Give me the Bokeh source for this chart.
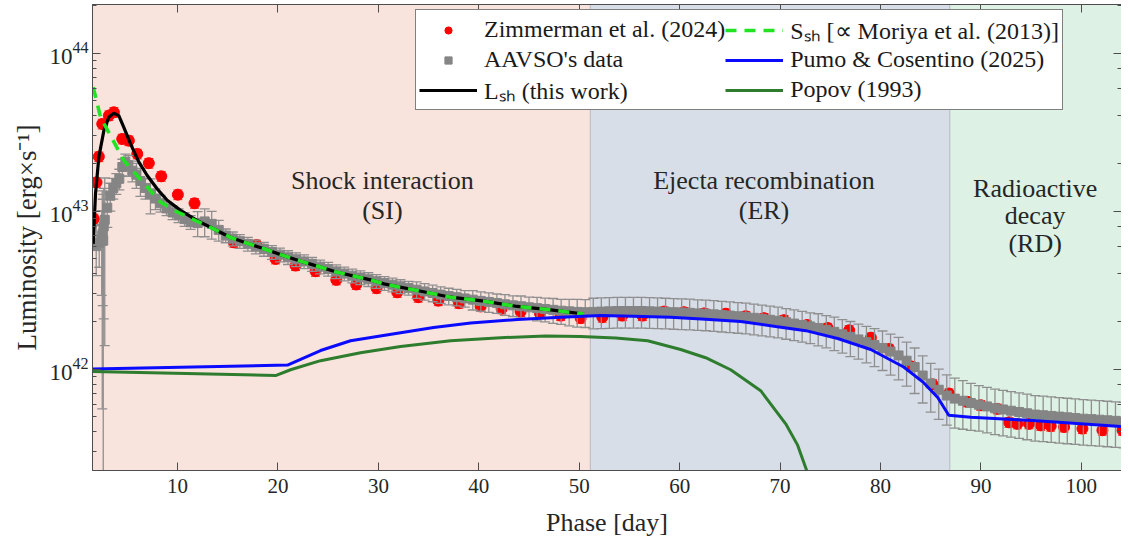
from bokeh.plotting import figure
from bokeh.models import (Range1d, LinearAxis, LogAxis, LogTicker, Legend, LegendItem,
                          BoxAnnotation, Label, SingleIntervalTicker, ColumnDataSource, Span)
from bokeh.embed import file_html
from bokeh.resources import INLINE

UNIT = 1e42  # luminosities below are in units of 1e42 erg/s

# ---------------- data ----------------
zim_day = [1.66, 1.93, 2.16, 2.50, 3.16, 3.66, 4.49, 5.15, 5.99, 7.14, 8.38, 10.03, 11.69,
           15.61, 17.87, 19.76, 21.75, 23.74, 25.81, 27.80, 29.82, 31.88, 33.97, 35.97,
           38.02, 40.18, 42.27, 44.16, 46.09, 48.15, 50.14,
           52.30, 54.29, 56.28, 58.45, 60.44, 62.43, 64.60, 66.58, 68.40, 70.39, 72.69,
           74.74, 76.88, 79.04, 80.86, 83.03, 85.18, 86.82, 88.66, 89.98, 91.64, 92.80,
           93.63, 94.79, 95.96, 96.95, 98.28, 100.11, 102.10, 104.10]
zim_lum = [8.93, 15.2, 22.1, 35.6, 40.2, 42.2, 28.6, 27.9, 23.0, 20.1, 16.6, 12.7, 11.2,
           6.34, 6.1, 4.98, 4.52, 4.16, 3.67, 3.43, 3.25, 3.06, 2.85, 2.71,
           2.61, 2.49, 2.41, 2.31, 2.25, 2.18, 2.10,
           2.13, 2.18, 2.18, 2.31, 2.29, 2.25, 2.24, 2.16, 2.10, 2.04, 1.90,
           1.82, 1.76, 1.58, 1.34, 1.04, 0.80, 0.70, 0.62, 0.59, 0.56, 0.46,
           0.45, 0.45, 0.44, 0.435, 0.43, 0.42, 0.41, 0.41]
zim_err_frac = 0.07

aavso_day = [1.9, 2.2, 2.45, 2.5, 2.55, 2.6, 2.65, 2.75, 3.0, 3.3, 3.6, 3.9, 4.2, 4.5, 4.8,
             5.1, 5.5, 5.9, 6.3, 6.8, 7.3, 7.8, 8.3, 8.9, 9.5, 10.1, 10.7, 11.3, 12.0, 12.7,
             13.4, 14.1, 14.8, 15.5, 16.2, 17.0, 17.8, 18.6, 19.4, 20.2, 21.0, 21.8, 22.6,
             23.4, 24.2, 25.0, 25.8, 26.6, 27.4, 28.2, 29.0, 29.8, 30.6, 31.4, 32.2, 33.0,
             33.8, 34.6, 35.4, 36.2, 37.0, 37.8, 38.6, 39.4, 40.2, 41.0, 41.8, 42.6, 43.4,
             44.2, 45.0, 45.8, 46.6, 47.4, 48.2, 49.0, 49.8, 50.6,
             51.4, 52.2, 53.0, 53.8, 54.6, 55.4, 56.2, 57.0, 57.8, 58.6, 59.4, 60.2, 61.0,
             61.8, 62.6, 63.4, 64.2, 65.0, 65.8, 66.6, 67.4, 68.2, 69.0, 69.8, 70.6, 71.4,
             72.2, 73.0, 73.8, 74.6, 75.4, 76.2, 77.0, 77.8, 78.6, 79.4, 80.2, 81.0, 81.8,
             82.6, 83.4, 84.2, 85.0, 85.8, 86.6, 87.4, 88.2, 89.0, 89.8, 90.6, 91.4, 92.2,
             93.0, 93.8, 94.6, 95.4, 96.2, 97.0, 97.8, 98.6, 99.4, 100.2, 101.0, 101.8,
             102.6, 103.4, 104.2]
aavso_lum = [6.0, 6.3, 6.5, 7.0, 7.2, 6.5, 8.0, 8.8, 10.5, 12.5, 14.0, 15.0, 16.0, 19.0, 20.5,
             19.5, 18.0, 17.0, 15.5, 14.0, 12.8, 12.0, 11.2, 10.4, 9.8, 9.4, 8.9, 8.5, 8.4, 8.6,
             8.3, 7.6, 7.0, 6.7, 6.45, 6.2, 5.95, 5.75, 5.5, 5.3, 5.1, 4.95, 4.8,
             4.62, 4.45, 4.3, 4.15, 4.02, 3.9, 3.8, 3.7, 3.6, 3.5, 3.42, 3.34, 3.26,
             3.18, 3.1, 3.03, 2.96, 2.9, 2.85, 2.8, 2.75, 2.7, 2.66, 2.62, 2.57, 2.53,
             2.5, 2.46, 2.43, 2.4, 2.37, 2.34, 2.32, 2.3, 2.29,
             2.30, 2.31, 2.32, 2.33, 2.33, 2.33, 2.33, 2.32, 2.31, 2.30, 2.29, 2.28, 2.27,
             2.25, 2.24, 2.22, 2.20, 2.18, 2.16, 2.14, 2.11, 2.08, 2.05, 2.02, 1.98, 1.94,
             1.90, 1.86, 1.82, 1.77, 1.72, 1.66, 1.60, 1.54, 1.48, 1.42, 1.36, 1.29, 1.22,
             1.13, 1.03, 0.91, 0.81, 0.74, 0.68, 0.65, 0.63, 0.61, 0.595, 0.58, 0.565, 0.555,
             0.545, 0.535, 0.525, 0.515, 0.51, 0.505, 0.50, 0.495, 0.49, 0.485, 0.482, 0.478,
             0.474, 0.47, 0.466]
aavso_err_frac = [0.35, 0.3, 0.55, 0.92, 0.65, 0.965, 0.74, 0.84, 0.25, 0.2, 0.15, 0.15, 0.15,
                  0.12, 0.12, 0.15, 0.15, 0.18, 0.2, 0.15, 0.25, 0.15, 0.12, 0.1, 0.1, 0.1,
                  0.1, 0.1, 0.18, 0.2, 0.2, 0.15, 0.1, 0.1, 0.1, 0.1, 0.1, 0.1, 0.1, 0.1,
                  0.1, 0.1, 0.1, 0.1, 0.1, 0.1, 0.1, 0.1, 0.1, 0.1, 0.1, 0.1, 0.1, 0.1,
                  0.1, 0.1, 0.12, 0.12, 0.12, 0.12, 0.12, 0.12, 0.12, 0.14, 0.14, 0.14,
                  0.14, 0.15, 0.15, 0.16, 0.16, 0.17, 0.17, 0.18, 0.18, 0.19, 0.2, 0.2,
                  0.22, 0.22, 0.22, 0.22, 0.22, 0.22, 0.22, 0.22, 0.22, 0.22, 0.22, 0.22,
                  0.22, 0.22, 0.22, 0.22, 0.22, 0.22, 0.22, 0.22, 0.22, 0.22, 0.22, 0.22,
                  0.22, 0.22, 0.22, 0.22, 0.23, 0.23, 0.24, 0.24, 0.25, 0.25, 0.26, 0.27,
                  0.28, 0.29, 0.30, 0.31, 0.32, 0.33, 0.34, 0.35, 0.35, 0.35, 0.34, 0.33,
                  0.32, 0.32, 0.32, 0.32, 0.32, 0.32, 0.32, 0.32, 0.32, 0.32, 0.32, 0.32,
                  0.32, 0.32, 0.32, 0.32, 0.32, 0.32, 0.32, 0.32, 0.32, 0.32, 0.32]

lsh_day = [1.60, 1.83, 2.16, 2.66, 3.16, 3.66, 4.15, 4.65, 5.32, 6.15, 6.98, 7.98, 8.97,
           10.30, 11.96, 13.62, 15.28, 16.94, 18.60, 20.26, 22.58, 25.91, 29.22, 30.55,
           33.87, 37.19, 40.51, 43.83, 47.15, 50.47]
lsh_lum = [6.2, 12.9, 21.9, 32.3, 39.3, 41.6, 40.2, 33.9, 26.6, 20.4, 16.8, 13.8, 11.7,
           10.1, 8.7, 7.7, 6.8, 6.25, 5.77, 5.3, 4.75, 4.1, 3.67, 3.46,
           3.14, 2.85, 2.69, 2.49, 2.37, 2.23]

ssh_day = [1.60, 2.33, 3.50, 4.65, 5.82, 6.98, 8.31, 9.63, 11.96, 13.62, 15.28, 16.94,
           18.60, 20.26, 22.58, 25.91, 29.22, 30.55, 33.87, 37.19, 40.51, 43.83, 47.15, 50.47]
ssh_lum = [60.8, 39.3, 28.6, 20.9, 17.2, 14.2, 11.4, 10.1, 8.6, 7.7, 6.8, 6.25,
           5.77, 5.3, 4.75, 4.1, 3.67, 3.46, 3.14, 2.85, 2.69, 2.49, 2.37, 2.23]

pumo_day = [1.54, 20.95, 24.24, 27.23, 32.21, 35.5, 39.19, 43.84, 48.15, 52.13, 55.42,
            59.1, 62.59, 66.08, 69.56, 72.56, 75.74, 79.03, 82.31, 84.3, 85.7, 86.8,
            88.99, 95.16, 104.8]
pumo_lum = [1.0, 1.06, 1.31, 1.51, 1.70, 1.83, 1.96, 2.06, 2.13, 2.18, 2.16,
            2.13, 2.07, 2.00, 1.86, 1.75, 1.56, 1.33, 1.03, 0.82, 0.66, 0.51,
            0.496, 0.472, 0.43]

popov_day = [1.54, 19.76, 21.25, 24.24, 28.22, 32.21, 37.19, 42.17, 46.65, 50.14, 53.63,
             56.81, 60.10, 62.59, 65.08, 68.07, 70.56, 71.75, 72.65, 73.3]
popov_lum = [0.964, 0.91, 0.99, 1.13, 1.27, 1.39, 1.51, 1.58, 1.62, 1.61, 1.57,
             1.51, 1.33, 1.18, 0.99, 0.73, 0.45, 0.33, 0.228, 0.17]

phase_bounds = [51.1, 86.9]

# ---------------- figure ----------------
FONT = "Liberation Serif"
AX = "#4d4d4d"
TXT = "#262626"

p = figure(width=1121, height=540, y_axis_type="log",
           x_range=Range1d(1.53, 104.0), y_range=Range1d(2.28e41, 2.03e44),
           output_backend="svg", toolbar_location=None,
           min_border_left=92, min_border_right=0, min_border_top=0, min_border_bottom=70,
           background_fill_color="white", border_fill_color="white")
p.grid.visible = False
p.outline_line_color = AX

# phase backgrounds
p.add_layout(BoxAnnotation(right=phase_bounds[0], fill_color="#f9e3dd", fill_alpha=1,
                           line_color=None, level="underlay"))
p.add_layout(BoxAnnotation(left=phase_bounds[0], right=phase_bounds[1], fill_color="#d8dee8",
                           fill_alpha=1, line_color=None, level="underlay"))
p.add_layout(BoxAnnotation(left=phase_bounds[1], fill_color="#ddf2e4", fill_alpha=1,
                           line_color=None, level="underlay"))
for b in phase_bounds:
    p.add_layout(Span(location=b, dimension="height", line_color="#b4b8c0", line_width=1,
                      level="underlay"))

# Zimmerman data
zy = [v * UNIT for v in zim_lum]
zsrc = ColumnDataSource(dict(x=zim_day, y=zy,
                             lo=[v * (1 - zim_err_frac) for v in zy],
                             hi=[v * (1 + zim_err_frac) for v in zy]))
p.segment(x0="x", y0="lo", x1="x", y1="hi", source=zsrc, line_color="#ff2020", line_width=1)
p.scatter("x", "lo", source=zsrc, marker="dash", size=9, line_color="#ff2020", line_width=1)
p.scatter("x", "hi", source=zsrc, marker="dash", size=9, line_color="#ff2020", line_width=1)
r_zim = p.scatter("x", "y", source=zsrc, marker="circle", size=11, fill_color="#ff0000",
                  line_color="#ff0000")

# AAVSO data
ay = [v * UNIT for v in aavso_lum]
asrc = ColumnDataSource(dict(x=aavso_day, y=ay,
                             lo=[v * (1 - f) for v, f in zip(ay, aavso_err_frac)],
                             hi=[v * (1 + f) for v, f in zip(ay, aavso_err_frac)]))
p.segment(x0="x", y0="lo", x1="x", y1="hi", source=asrc, line_color="#8f8f8f", line_width=1.3)
p.scatter("x", "lo", source=asrc, marker="dash", size=10, line_color="#8f8f8f", line_width=1.3)
p.scatter("x", "hi", source=asrc, marker="dash", size=10, line_color="#8f8f8f", line_width=1.3)
r_aav = p.scatter("x", "y", source=asrc, marker="square", size=9, fill_color="#858585",
                  line_color="#858585")

# model curves
r_lsh = p.line(lsh_day, [v * UNIT for v in lsh_lum], line_color="black", line_width=3.2)
r_ssh = p.line(ssh_day, [v * UNIT for v in ssh_lum], line_color="#22e322", line_width=3.6,
               line_dash="11 8")
r_pumo = p.line(pumo_day, [v * UNIT for v in pumo_lum], line_color="#0a0aff", line_width=3)
r_pop = p.line(popov_day, [v * UNIT for v in popov_lum], line_color="#2e7d2e", line_width=3)

# phase labels
def lab(x, ly, t):
    p.add_layout(Label(x=x, y=10 ** ly, text=t, text_align="center", text_baseline="middle",
                       text_font=FONT, text_font_size="26px", text_color=TXT))

lab(30.4, 43.193, "Shock interaction")
lab(30.4, 43.003, "(SI)")
lab(68.4, 43.193, "Ejecta recombination")
lab(68.4, 43.003, "(ER)")
lab(95.4, 43.142, "Radioactive")
lab(95.4, 42.971, "decay")
lab(95.4, 42.794, "(RD)")

# axes
xa = p.xaxis[0]
xa.ticker = SingleIntervalTicker(interval=10)
ya = p.yaxis[0]
for ax in (xa, ya):
    ax.major_tick_in = 8
    ax.major_tick_out = 0
    ax.minor_tick_in = 4
    ax.minor_tick_out = 0
    ax.axis_line_color = AX
    ax.major_tick_line_color = AX
    ax.minor_tick_line_color = AX
    ax.major_label_text_font = FONT
    ax.major_label_text_color = TXT
    ax.axis_label_text_font = FONT
    ax.axis_label_text_font_style = "normal"
    ax.axis_label_text_color = TXT
xa.major_label_text_font_size = "21px"
ya.major_label_text_font_size = "23px"
xa.axis_label_text_font_size = "26px"
ya.axis_label_text_font_size = "27px"
xa.minor_tick_line_color = None
xa.axis_label = "Phase [day]"
ya.axis_label = "Luminosity [erg×s⁻¹]"
xa.major_label_standoff = 8
xa.axis_label_standoff = 12
ya.major_label_standoff = 4
ya.axis_label_standoff = 4

top = LinearAxis(ticker=SingleIntervalTicker(interval=10), major_label_text_font_size="1px",
                 major_label_text_alpha=0, major_label_standoff=0, major_tick_in=8,
                 major_tick_out=0, minor_tick_line_color=None, axis_line_color=AX,
                 major_tick_line_color=AX)
p.add_layout(top, "above")
right = LogAxis(ticker=LogTicker(), major_label_text_font_size="1px", major_label_text_alpha=0,
                major_label_standoff=0, major_tick_in=8, major_tick_out=0, minor_tick_in=4,
                minor_tick_out=0, axis_line_color=AX, major_tick_line_color=AX,
                minor_tick_line_color=AX)
p.add_layout(right, "right")

legend = Legend(items=[
    LegendItem(label="Zimmerman et al. (2024)", renderers=[r_zim]),
    LegendItem(label="AAVSO's data", renderers=[r_aav]),
    LegendItem(label="Lₛₕ (this work)", renderers=[r_lsh]),
    LegendItem(label="Sₛₕ [∝ Moriya et al. (2013)]", renderers=[r_ssh]),
    LegendItem(label="Pumo & Cosentino (2025)", renderers=[r_pumo]),
    LegendItem(label="Popov (1993)", renderers=[r_pop]),
], ncols=2, location=(323, 360), label_text_font=FONT, label_text_font_size="24px",
    label_text_color="#1a1a1a", border_line_color="black", border_line_width=1,
    background_fill_alpha=1, glyph_width=58, glyph_height=18, label_standoff=7,
    label_height=18, padding=3, spacing=0, margin=0)
p.add_layout(legend)

open("out.html", "w").write(file_html(p, INLINE))
